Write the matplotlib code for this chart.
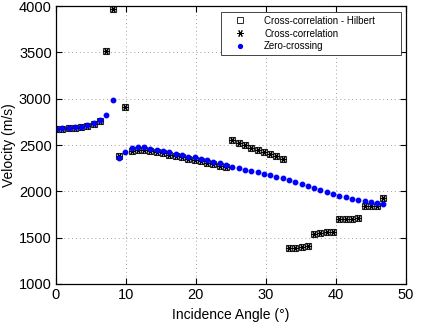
import numpy as np
import matplotlib
matplotlib.use("Agg")
import matplotlib.pyplot as plt

plt.rcParams['font.family'] = ['Liberation Sans', 'DejaVu Sans']

# incidence angles, 0.9 degree step, 53 shots
angle = [round(0.9 * i, 1) for i in range(53)]

# cross-correlation on the Hilbert envelope
vel_hilbert = [2670, 2675, 2680, 2688, 2692, 2705, 2722, 2755, 3518, 3970,
               2380, 2906, 2440, 2450, 2450, 2435, 2422, 2410, 2397, 2382,
               2368, 2350, 2342, 2327, 2310, 2290, 2278, 2265, 2554, 2525,
               2497, 2471, 2449, 2428, 2406, 2381, 2352, 1388, 1392, 1403,
               1410, 1543, 1550, 1558, 1561, 1701, 1705, 1705, 1709, 1842,
               1842, 1842, 1931]

# plain cross-correlation
vel_xcorr = [2670, 2675, 2680, 2688, 2692, 2705, 2722, 2755, 3518, 3970,
             2380, 2906, 2440, 2450, 2450, 2435, 2422, 2410, 2397, 2382,
             2368, 2350, 2342, 2327, 2310, 2290, 2278, 2265, 2554, 2525,
             2497, 2471, 2449, 2428, 2406, 2381, 2352, 1388, 1392, 1403,
             1410, 1543, 1550, 1558, 1561, 1701, 1705, 1705, 1709, 1842,
             1842, 1842, 1931]

# zero-crossing picks
vel_zero = [2672, 2683, 2686, 2694, 2697, 2716, 2734, 2766, 2824, 2982,
            2360, 2428, 2464, 2475, 2475, 2457, 2446, 2435, 2421, 2406,
            2392, 2374, 2367, 2352, 2335, 2313, 2302, 2287, 2262, 2252,
            2234, 2223, 2205, 2190, 2173, 2155, 2140, 2122, 2101, 2082,
            2061, 2039, 2018, 1993, 1975, 1953, 1939, 1920, 1906, 1896,
            1885, 1877, 1866]

fig = plt.figure(figsize=(4.21, 3.23), dpi=100)
ax = fig.add_axes([0.133, 0.121, 0.831, 0.860])

asterisk = (6, 2, 90)

ax.plot(angle, vel_hilbert, 's', ms=5, mfc='#bdbdbd', mec='#2a2a2a', mew=0.8,
        label='Cross-correlation - Hilbert')
ax.plot(angle, vel_xcorr, marker=asterisk, ls='none', ms=5, color='black',
        mew=0.7, label='Cross-correlation')
ax.plot(angle, vel_zero, 'o', ms=3.2, color='#0000ff', mec='#0000ff',
        label='Zero-crossing')

ax.set_xlim(0, 50)
ax.set_ylim(1000, 4000)
ax.set_xticks(range(0, 51, 10))
ax.set_yticks(range(1000, 4001, 500))
ax.tick_params(direction='in', top=True, right=True, labelsize=10.5,
               length=4, width=0.8, pad=3)
ax.grid(True, linestyle=(0, (1, 3)), color='#a0a0a0', linewidth=0.7)
for s in ax.spines.values():
    s.set_linewidth(0.9)

ax.set_xlabel('Incidence Angle (°)', fontsize=10, labelpad=4)
ax.set_ylabel('Velocity (m/s)', fontsize=10, labelpad=2)

# legend box spans a fixed strip at the top right
leg = ax.legend(loc='upper left', bbox_to_anchor=(0.471, 0.978, 0.514, 0.0),
                mode='expand', fontsize=7, frameon=True, fancybox=False,
                edgecolor='#444444', framealpha=1, borderaxespad=0,
                handlelength=3.3, handletextpad=0.8, labelspacing=0.3,
                borderpad=0.35)
leg.get_frame().set_linewidth(0.7)
hs = leg.legend_handles
hs[0].set_markerfacecolor('none')
hs[0].set_markeredgewidth(0.7)
hs[2].set_markersize(2.8)

fig.savefig('out.png', dpi=100)
